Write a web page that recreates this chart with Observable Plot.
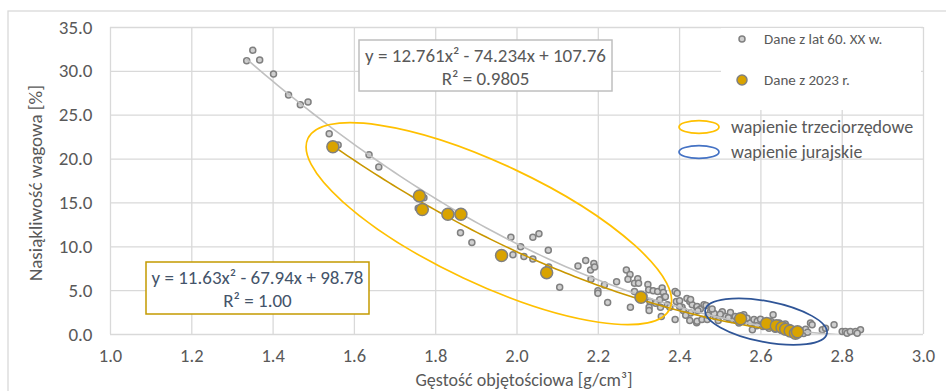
<!DOCTYPE html>
<html><head><meta charset="utf-8">
<script src="https://cdn.jsdelivr.net/npm/d3@7"></script>
<script src="https://cdn.jsdelivr.net/npm/@observablehq/plot@0.6"></script>
<style>
html,body{margin:0;padding:0;background:#fff;}
#chart{width:946px;height:391px;overflow:hidden;}
</style></head><body><div id="chart"></div>
<script>
// ---- data: measurements from the 1960s (gray) ----
const oldX = [1.335,1.350,1.367,1.401,1.438,1.467,1.486,1.538,1.560,1.636,1.660,1.771,1.757,1.865,1.861,1.889,
1.985,2.009,1.990,2.017,2.039,2.039,2.054,2.077,2.078,2.105,2.150,2.169,2.181,2.189,2.191,2.182,2.199,2.199,2.215,
2.223,2.245,2.269,2.278,2.273,2.289,2.297,2.299,2.322,2.289,2.279,2.312,2.324,2.335,2.346,2.357,2.360,2.362,2.351,
2.327,2.325,2.325,2.341,2.353,2.370,2.376,2.389,2.394,2.392,2.355,2.389,2.406,2.400,2.418,2.425,2.431,2.427,2.442,
2.425,2.442,2.409,2.365,2.427,2.443,2.451,2.460,2.443,2.455,2.468,2.476,2.488,2.505,2.513,2.525,2.529,2.537,2.546,
2.558,2.566,2.574,2.583,2.591,2.579,2.599,2.611,2.624,2.630,2.644,2.722,2.726,2.751,2.759,2.780,2.800,2.808,2.812,
2.820,2.833,2.845,2.837,2.605,2.620,2.635,2.650,2.655,2.665,2.670,2.680,2.690,2.700,2.705,2.710,2.715,2.660,2.645,
2.590,2.555,2.540,2.520,2.500,2.495,2.485,2.470,2.465,2.480,2.445,2.415,2.400];
const oldY = [31.2,32.4,31.3,29.7,27.3,26.2,26.5,22.9,21.6,20.5,19.1,15.6,14.4,13.5,11.6,10.5,
11.1,10.0,9.1,8.9,8.6,11.1,11.5,9.6,7.7,5.4,7.8,8.45,7.35,8.1,7.7,6.3,5.0,4.7,5.65,
3.65,6.0,7.35,6.85,6.3,5.85,6.35,5.85,5.7,4.9,3.1,4.4,5.1,5.0,4.9,5.3,4.8,4.25,3.95,
3.75,3.1,2.75,3.55,3.1,3.4,3.1,4.9,4.7,3.75,2.05,1.7,3.1,3.85,4.1,3.75,3.4,2.45,3.1,
1.6,1.35,2.75,4.3,4.0,3.2,2.9,3.4,1.5,1.7,1.7,2.6,2.05,2.6,2.05,2.5,1.7,2.05,1.3,
2.25,1.85,1.3,1.7,1.5,0.55,1.75,1.1,1.5,2.25,0.9,1.3,1.1,0.55,0.7,1.1,0.35,0.35,0.15,
0.35,0.35,0.55,0.15,0.9,0.7,0.6,0.5,1.0,0.3,0.8,0.5,0.2,0.4,0.1,0.6,0.25,1.2,1.3,
1.0,1.5,1.6,1.9,2.3,1.6,2.4,2.2,3.3,2.9,2.7,2.2,3.2];
// ---- data: measurements from 2023 (gold) ----
const newX = [1.547,1.760,1.767,1.830,1.862,1.962,2.073,2.305,2.550,2.614,2.638,2.652,2.661,2.672,2.685,2.690];
const newY = [21.4,15.8,14.25,13.7,13.7,9.0,7.05,4.25,1.8,1.25,1.0,0.8,0.6,0.4,0.15,0.3];
// ---- trendline coefficients (a, b, c of y = a x^2 + b x + c) ----
const oldFit = [12.761, -74.234, 107.76];
const newFit = [11.63, -67.94, 98.78];
const oldEq = ["y = 12.761x² - 74.234x + 107.76", "R² = 0.9805"];
const newEq = ["y = 11.63x² - 67.94x + 98.78", "R² = 1.00"];
// ---- axes ----
const xTicks = [1.0,1.2,1.4,1.6,1.8,2.0,2.2,2.4,2.6,2.8,3.0];
const yTicks = [0,5,10,15,20,25,30,35];
const xTitle = "Gęstość objętościowa [g/cm³]";
const yTitle = "Nasiąkliwość wagowa [%]";
// ---- legend / zones ----
const seriesNames = ["Dane z lat 60. XX w.", "Dane z 2023 r."];
const zoneNames = ["wapienie trzeciorzędowe", "wapienie jurajskie"];
const zoneCX = [1.932, 2.614];
const zoneCY = [12.58, 1.41];

const FONT = "Carlito, Calibri, Lato, 'Open Sans', sans-serif";
const GRID = "#d9d9d9";
const TXT = "#595959";
const GOLD = "#d9a300";
const GOLDLINE = "#c99700";
const YELLOW = "#ffc000";
const BLUE = "#2f5597";
const BLUE_LEG = "#4472c4";

const oldPts = oldX.map((x,i)=>({x, y: oldY[i]}));
const newPts = newX.map((x,i)=>({x, y: newY[i]}));
const curve = (c, x0, x1) => d3.range(0, 101).map(i => { const x = x0 + (x1-x0)*i/100; return {x, y: c[0]*x*x + c[1]*x + c[2]}; });
const oldCurve = curve(oldFit, d3.min(oldX), d3.max(oldX));
const newCurve = curve(newFit, d3.min(newX), d3.max(newX));

const plot = Plot.plot({
  width: 946, height: 391,
  marginLeft: 110, marginRight: 23, marginTop: 27, marginBottom: 57,
  style: {fontFamily: FONT, fontSize: "19px", color: TXT, background: "white", overflow: "visible"},
  x: {domain: [1, 3]},
  y: {domain: [0, 35]},
  marks: [
    Plot.gridX(xTicks, {stroke: GRID, strokeOpacity: 1, strokeWidth: 1.3}),
    Plot.gridY(yTicks, {stroke: GRID, strokeOpacity: 1, strokeWidth: 1.3}),
    Plot.axisX(xTicks, {tickSize: 0, tickPadding: 14, label: null, tickFormat: d => d.toFixed(1), fontSize: 18.5, fill: TXT}),
    Plot.axisY(yTicks, {tickSize: 0, tickPadding: 18, label: null, tickFormat: d => d.toFixed(1), fontSize: 19, fill: TXT}),
    Plot.dot(oldPts, {x: "x", y: "y", r: 3, fill: "#cfcfcf", stroke: "#808080", strokeWidth: 1.5}),
    Plot.line(oldCurve, {x: "x", y: "y", stroke: "#c0c0c0", strokeWidth: 1.6, clip: true}),
    Plot.line(newCurve, {x: "x", y: "y", stroke: GOLDLINE, strokeWidth: 1.6, clip: true}),
    Plot.dot(newPts, {x: "x", y: "y", r: 6, fill: GOLD, stroke: "#808080", strokeWidth: 1.5})
  ]
});
document.getElementById("chart").appendChild(plot);

const svg = d3.select(plot);
const sx = plot.scale("x"), sy = plot.scale("y");

function txt(x, y, s, size, color, anchor) {
  return svg.append("text").attr("x", x).attr("y", y).attr("dy", "0.35em")
    .attr("text-anchor", anchor).attr("font-family", FONT).attr("font-size", size).attr("fill", color).text(s);
}

// outer chart frame
svg.insert("rect", ":first-child").attr("x", 8).attr("y", 11).attr("width", 960).attr("height", 420)
  .attr("fill", "none").attr("stroke", GRID).attr("stroke-width", 1.3);

// axis titles
txt(524, 380, xTitle, 18, TXT, "middle");
txt(0, 0, yTitle, 19, TXT, "middle").attr("transform", "translate(35,183) rotate(-90)");

// zone ellipses (centers through the scales)
const zoneGeom = [{rx: 200, ry: 60, rot: 25.2, color: YELLOW}, {rx: 62, ry: 20.4, rot: 11.05, color: BLUE}];
zoneNames.forEach((n, i) => {
  const g = zoneGeom[i];
  svg.append("ellipse").attr("cx", 0).attr("cy", 0).attr("rx", g.rx).attr("ry", g.ry)
    .attr("transform", `translate(${sx.apply(zoneCX[i])},${sy.apply(zoneCY[i])}) rotate(${g.rot})`)
    .attr("fill", "none").attr("stroke", g.color).attr("stroke-width", 1.7);
});

// equation boxes
function eqBox(x, y, w, h, stroke, color, lines) {
  svg.append("rect").attr("x", x).attr("y", y).attr("width", w).attr("height", h)
    .attr("fill", "white").attr("stroke", stroke).attr("stroke-width", 1.5);
  lines.forEach((t, i) => txt(x + w/2, y + 15 + i*23, t, 19, color, "middle"));
}
eqBox(359, 40, 253, 51, "#bfbfbf", TXT, oldEq);
eqBox(146, 262, 223, 52, "#c49a00", "#44546a", newEq);

// legend (series)
svg.append("rect").attr("x", 721).attr("y", 28).attr("width", 200).attr("height", 82).attr("fill", "white");
const legY = [39, 80];
const legR = [3, 5];
const legFill = ["#cfcfcf", GOLD];
seriesNames.forEach((n, i) => {
  svg.append("circle").attr("cx", 742).attr("cy", legY[i]).attr("r", legR[i])
    .attr("fill", legFill[i]).attr("stroke", "#808080").attr("stroke-width", 1.5);
  txt(764, legY[i], n, 15, TXT, "start");
});
// legend (zones)
const zoneLegY = [127, 152];
const zoneLegColor = [YELLOW, BLUE_LEG];
zoneNames.forEach((n, i) => {
  svg.append("ellipse").attr("cx", 699).attr("cy", zoneLegY[i]).attr("rx", 20).attr("ry", 6.3)
    .attr("fill", "none").attr("stroke", zoneLegColor[i]).attr("stroke-width", 1.7);
  txt(731, zoneLegY[i], n, 18, TXT, "start");
});
</script>
</body></html>
